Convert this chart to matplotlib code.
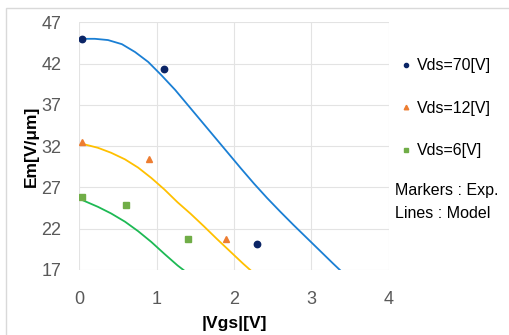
import matplotlib
matplotlib.use("Agg")
import matplotlib.pyplot as plt
from matplotlib.patches import Rectangle

plt.rcParams['font.family'] = ['Liberation Sans', 'DejaVu Sans']

# Experimental data
vgs70 = [0.03, 1.10, 2.30]
em70 = [45.0, 41.4, 20.1]
vgs12 = [0.03, 0.90, 1.90]
em12 = [32.5, 30.5, 20.7]
vgs6 = [0.03, 0.60, 1.40]
em6 = [25.8, 24.9, 20.7]

# Model curves
mx70 = [0.03, 0.2, 0.37, 0.55, 0.72, 0.89, 1.06, 1.24, 1.41, 1.58, 1.75, 1.92,
        2.09, 2.26, 2.43, 2.6, 2.77, 2.94, 3.11, 3.28, 3.37]
my70 = [45.0, 45.0, 44.85, 44.35, 43.4, 42.2, 40.6, 38.8, 36.9, 35.0, 33.1, 31.2,
        29.3, 27.45, 25.7, 24.05, 22.45, 20.9, 19.35, 17.8, 17.0]
mx12 = [0.03, 0.24, 0.41, 0.59, 0.76, 0.93, 1.1, 1.27, 1.44, 1.61, 1.78, 1.95, 2.12, 2.21]
my12 = [32.3, 31.8, 31.2, 30.4, 29.4, 28.15, 26.75, 25.2, 23.8, 22.3, 20.75, 19.25, 17.75, 17.0]
mx6 = [0.03, 0.24, 0.41, 0.59, 0.76, 0.93, 1.1, 1.27, 1.36]
my6 = [25.5, 24.65, 23.85, 22.85, 21.7, 20.4, 18.95, 17.55, 16.9]

xticks = [0, 1, 2, 3, 4]
yticks = [17, 22, 27, 32, 37, 42, 47]
labels = ['Vds=70[V]', 'Vds=12[V]', 'Vds=6[V]']

fig = plt.figure(figsize=(5.09, 3.35), dpi=100)
fig.patches.append(Rectangle((6/509, -0.1), 1.2, 1 - 8/335 + 0.1, transform=fig.transFigure,
                             fill=False, edgecolor='#D9D9D9', linewidth=1))
ax = fig.add_axes([79.4/509, 1 - 270/335, (388.6-79.4)/509, (270-22.3)/335])

ax.plot(mx70, my70, color='#1A7FD4', lw=1.3, zorder=2, solid_joinstyle='round')
ax.plot(mx12, my12, color='#FFC000', lw=1.3, zorder=2, solid_joinstyle='round')
ax.plot(mx6, my6, color='#1DB954', lw=1.3, zorder=2, solid_joinstyle='round')

h1, = ax.plot(vgs70, em70, 'o', color='#0B2566', ms=4.6, ls='none', zorder=3, label=labels[0])
h2, = ax.plot(vgs12, em12, '^', color='#ED7D31', ms=5, ls='none', zorder=3, label=labels[1])
h3, = ax.plot(vgs6, em6, 's', color='#70AD47', ms=4.2, ls='none', zorder=3, label=labels[2])

ax.set_xlim(0, 4)
ax.set_ylim(17, 47)
ax.set_xticks(xticks)
ax.set_yticks(yticks)
ax.grid(True, color='#E3E3E3', lw=0.8)
ax.set_axisbelow(True)
for s in ax.spines.values():
    s.set_visible(False)
ax.tick_params(length=0, labelsize=13, colors='#595959', pad=13)
ax.tick_params(axis='x', pad=15)
ax.set_xlabel('|Vgs|[V]', fontsize=12.5, fontweight='bold', labelpad=6)
ax.set_ylabel('Em[V/μm]', fontsize=12.5, fontweight='bold', labelpad=2)

leg = fig.legend(handles=[h1, h2, h3], loc='upper left', bbox_to_anchor=(387/509, 1 - 44/335),
                 frameon=False, fontsize=11.5, handlelength=0.6, handletextpad=0.35,
                 labelspacing=1.72, markerscale=0.65)
fig.text(395/509, 1 - 190/335, 'Markers : Exp.', fontsize=11.5, va='center', ha='left')
fig.text(395/509, 1 - 213/335, 'Lines : Model', fontsize=11.5, va='center', ha='left')

fig.savefig('out.png', dpi=100)
